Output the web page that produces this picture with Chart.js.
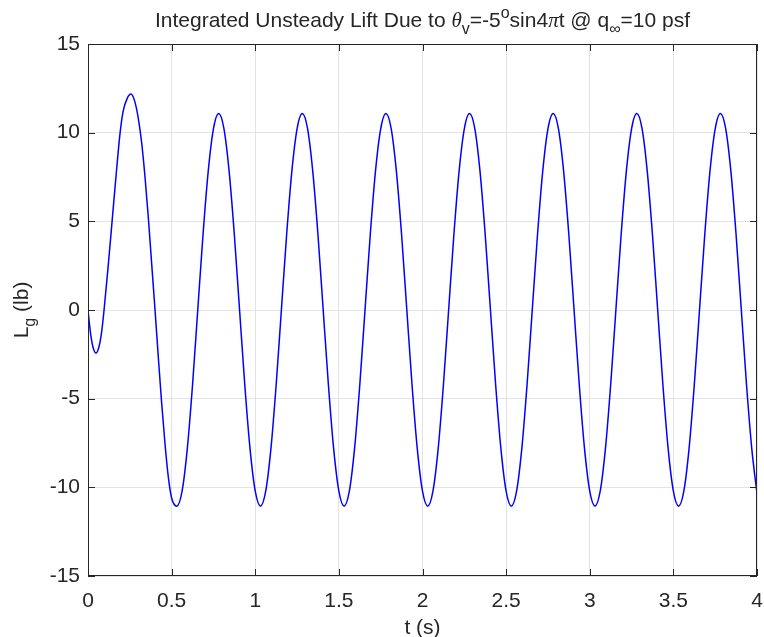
<!DOCTYPE html>
<html lang="en">
<head>
  <meta charset="UTF-8" />
  <title>Integrated Unsteady Lift</title>
  <style>
    * { box-sizing: border-box; margin: 0; padding: 0; }
    body { background: #fff; width: 764px; height: 637px; overflow: hidden; }
    #wrap { width: 764px; height: 637px; position: relative; }
  </style>
  <script src="https://cdn.jsdelivr.net/npm/chart.js"></script>
</head>
<body>
  <div id="wrap"><canvas id="liftChart"></canvas></div>

  <script>
    // start-up transient
    const startTimes = [0, 0.015, 0.03, 0.048, 0.065, 0.08, 0.096, 0.12, 0.144, 0.168, 0.192, 0.21, 0.235,
      0.257, 0.28, 0.30, 0.32, 0.34, 0.36, 0.38, 0.40, 0.42, 0.44, 0.46, 0.48, 0.50];
    const startLift = [0, -1.3, -2.1, -2.43, -2.1, -1.35, 0, 2.4, 5, 7.6, 10, 11.2, 11.95,
      12.18, 11.75, 10.85, 9.5, 7.6, 5.3, 2.7, 0.1, -2.6, -5.2, -7.5, -9.4, -10.6];

    // steady oscillation, one row per 0.5 s cycle
    const cycleTimes = [
      0.53125, 0.5625, 0.59375, 0.625, 0.65625, 0.6875, 0.71875, 0.75, 0.78125, 0.8125, 0.84375, 0.875, 0.90625, 0.9375, 0.96875, 1.0,
      1.03125, 1.0625, 1.09375, 1.125, 1.15625, 1.1875, 1.21875, 1.25, 1.28125, 1.3125, 1.34375, 1.375, 1.40625, 1.4375, 1.46875, 1.5,
      1.53125, 1.5625, 1.59375, 1.625, 1.65625, 1.6875, 1.71875, 1.75, 1.78125, 1.8125, 1.84375, 1.875, 1.90625, 1.9375, 1.96875, 2.0,
      2.03125, 2.0625, 2.09375, 2.125, 2.15625, 2.1875, 2.21875, 2.25, 2.28125, 2.3125, 2.34375, 2.375, 2.40625, 2.4375, 2.46875, 2.5,
      2.53125, 2.5625, 2.59375, 2.625, 2.65625, 2.6875, 2.71875, 2.75, 2.78125, 2.8125, 2.84375, 2.875, 2.90625, 2.9375, 2.96875, 3.0,
      3.03125, 3.0625, 3.09375, 3.125, 3.15625, 3.1875, 3.21875, 3.25, 3.28125, 3.3125, 3.34375, 3.375, 3.40625, 3.4375, 3.46875, 3.5,
      3.53125, 3.5625, 3.59375, 3.625, 3.65625, 3.6875, 3.71875, 3.75, 3.78125, 3.8125, 3.84375, 3.875, 3.90625, 3.9375, 3.96875, 4.0
    ];
    const cycleLift = [
      -11.06, -10.22, -7.82, -4.23, 0, 4.23, 7.82, 10.22, 11.08, 10.24, 7.83, 4.24, 0, -4.23, -7.82, -10.22,
      -11.06, -10.22, -7.82, -4.23, 0, 4.23, 7.82, 10.22, 11.08, 10.24, 7.83, 4.24, 0, -4.23, -7.82, -10.22,
      -11.06, -10.22, -7.82, -4.23, 0, 4.23, 7.82, 10.22, 11.08, 10.24, 7.83, 4.24, 0, -4.23, -7.82, -10.22,
      -11.06, -10.22, -7.82, -4.23, 0, 4.23, 7.82, 10.22, 11.08, 10.24, 7.83, 4.24, 0, -4.23, -7.82, -10.22,
      -11.06, -10.22, -7.82, -4.23, 0, 4.23, 7.82, 10.22, 11.08, 10.24, 7.83, 4.24, 0, -4.23, -7.82, -10.22,
      -11.06, -10.22, -7.82, -4.23, 0, 4.23, 7.82, 10.22, 11.08, 10.24, 7.83, 4.24, 0, -4.23, -7.82, -10.22,
      -11.06, -10.22, -7.82, -4.23, 0, 4.23, 7.82, 10.22, 11.08, 10.24, 7.83, 4.24, 0, -4.23, -7.82, -10.35
    ];

    const xTicks = [0, 0.5, 1, 1.5, 2, 2.5, 3, 3.5, 4];
    const yTicks = [-15, -10, -5, 0, 5, 10, 15];

    const times = startTimes.concat(cycleTimes);
    const lift = startLift.concat(cycleLift);
    const points = times.map((t, i) => ({ x: t, y: lift[i] }));

    const ink = '#262626';
    const font = '"Liberation Sans", Arial, sans-serif';
    const fontSize = 21;

    // draw a list of [text, style] runs; style: n normal, g greek, sub, sup
    function drawRich(ctx, runs, cx, cy) {
      const main = fontSize + 'px ' + font;
      const greek = 'italic ' + fontSize + 'px "Liberation Serif", "DejaVu Serif", serif';
      const small = Math.round(fontSize * 0.75) + 'px ' + font;
      const pick = s => s === 'g' ? greek : (s === 'sub' || s === 'sup') ? small : main;
      let total = 0;
      runs.forEach(r => { ctx.font = pick(r[1]); total += ctx.measureText(r[0]).width; });
      let x = cx - total / 2;
      ctx.textAlign = 'left';
      ctx.textBaseline = 'alphabetic';
      runs.forEach(r => {
        ctx.font = pick(r[1]);
        let y = cy;
        if (r[1] === 'sub') y += 7;
        if (r[1] === 'sup') y -= 9;
        ctx.fillText(r[0], x, y);
        x += ctx.measureText(r[0]).width;
      });
    }

    const framePlugin = {
      id: 'frame',
      afterDraw(chart) {
        const ctx = chart.ctx;
        const a = chart.chartArea;
        const xs = chart.scales.x, ys = chart.scales.y;
        ctx.save();
        ctx.strokeStyle = ink;
        ctx.lineWidth = 1;
        ctx.strokeRect(a.left + 0.5, a.top + 0.5, a.right - a.left - 1, a.bottom - a.top - 1);
        ctx.beginPath();
        xTicks.forEach(v => {
          const px = Math.round(xs.getPixelForValue(v)) + 0.5;
          ctx.moveTo(px, a.bottom); ctx.lineTo(px, a.bottom - 7);
          ctx.moveTo(px, a.top); ctx.lineTo(px, a.top + 7);
        });
        yTicks.forEach(v => {
          const py = Math.round(ys.getPixelForValue(v)) + 0.5;
          ctx.moveTo(a.left, py); ctx.lineTo(a.left + 7, py);
          ctx.moveTo(a.right, py); ctx.lineTo(a.right - 7, py);
        });
        ctx.stroke();

        ctx.fillStyle = ink;
        const mid = (a.left + a.right) / 2;
        drawRich(ctx, [
          ['Integrated Unsteady Lift Due to ', 'n'], ['\u03b8', 'g'], ['v', 'sub'], ['=-5', 'n'],
          ['o', 'sup'], ['sin4', 'n'], ['\u03c0', 'g'], ['t @ q', 'n'], ['\u221e', 'sub'], ['=10 psf', 'n']
        ], mid, 27);
        drawRich(ctx, [['t (s)', 'n']], mid, 634);

        ctx.translate(28, (a.top + a.bottom) / 2);
        ctx.rotate(-Math.PI / 2);
        drawRich(ctx, [['L', 'n'], ['g', 'sub'], [' (lb)', 'n']], 0, 0);
        ctx.restore();
      }
    };

    new Chart(document.getElementById('liftChart'), {
      type: 'line',
      data: {
        datasets: [{
          data: points,
          borderColor: '#0000ff',
          borderWidth: 1.5,
          pointRadius: 0,
          fill: false,
          cubicInterpolationMode: 'monotone'
        }]
      },
      options: {
        responsive: true,
        maintainAspectRatio: false,
        animation: false,
        layout: { padding: { top: 44, right: 7, left: 0, bottom: 0 } },
        plugins: { legend: { display: false }, tooltip: { enabled: false }, title: { display: false } },
        scales: {
          x: {
            type: 'linear',
            min: 0, max: 4,
            afterBuildTicks: s => { s.ticks = xTicks.map(v => ({ value: v })); },
            afterFit: s => { s.height = 61; s.paddingLeft = 0; s.paddingRight = 0; },
            grid: { color: '#e3e3e3', drawTicks: false },
            border: { display: false },
            ticks: { color: ink, padding: 13, maxRotation: 0, font: { family: font, size: fontSize }, callback: v => String(v) }
          },
          y: {
            type: 'linear',
            min: -15, max: 15,
            afterBuildTicks: s => { s.ticks = yTicks.map(v => ({ value: v })); },
            afterFit: s => { s.width = 88; s.paddingTop = 0; s.paddingBottom = 0; },
            grid: { color: '#e3e3e3', drawTicks: false },
            border: { display: false },
            ticks: { color: ink, padding: 8, font: { family: font, size: fontSize }, callback: v => String(v) }
          }
        }
      },
      plugins: [framePlugin]
    });
  </script>
</body>
</html>
